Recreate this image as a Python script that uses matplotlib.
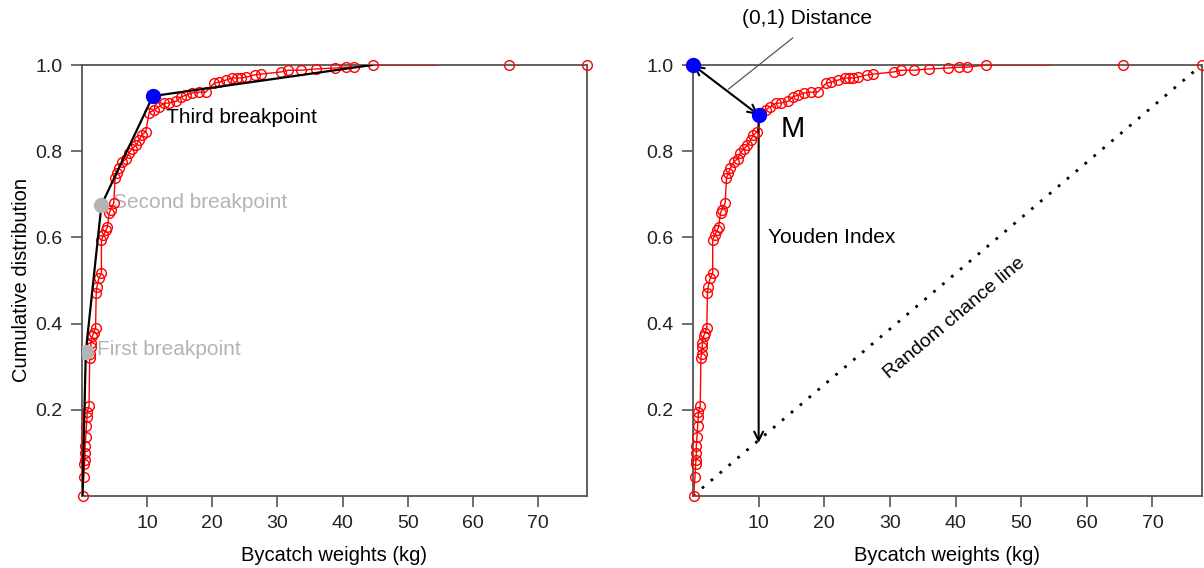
import matplotlib
matplotlib.use("Agg")
import matplotlib.pyplot as plt

plt.rcParams['font.family'] = ['Liberation Sans', 'DejaVu Sans']

# ECDF of bycatch weights (kg)
weights = [0.1, 0.3, 0.4, 0.45, 0.5, 0.5, 0.6, 0.7, 0.8, 0.8, 1.1,
           1.2, 1.3, 1.4, 1.4, 1.6, 1.8, 2.1,
           2.2, 2.3, 2.6, 3.0,
           3.0, 3.3, 3.7, 3.9, 4.2, 4.4, 4.9,
           5.1, 5.4, 5.7, 6.2, 6.8, 7.2, 7.7, 8.3, 8.8, 9.2, 9.8,
           10.3, 11.1, 11.8, 12.6, 13.4, 14.5, 15.2, 16.0, 16.9, 18.0, 19.0,
           20.3, 21.0, 22.1, 23.1, 23.8, 24.4, 25.2, 26.5, 27.5,
           30.6, 31.7, 33.7, 36.0, 38.8, 40.6, 41.8, 44.6, 65.5, 77.5]
cumdist = [0.0, 0.044, 0.075, 0.083, 0.10, 0.116, 0.137, 0.162, 0.183, 0.195, 0.209,
           0.32, 0.33, 0.345, 0.355, 0.37, 0.378, 0.39,
           0.47, 0.485, 0.505, 0.517,
           0.594, 0.605, 0.617, 0.624, 0.657, 0.664, 0.68,
           0.738, 0.749, 0.761, 0.775, 0.782, 0.796, 0.805, 0.814, 0.826, 0.838, 0.845,
           0.889, 0.896, 0.903, 0.911, 0.912, 0.916, 0.926, 0.93, 0.935, 0.937, 0.937,
           0.958, 0.96, 0.965, 0.97, 0.97, 0.97, 0.972, 0.977, 0.979,
           0.984, 0.988, 0.988, 0.991, 0.993, 0.995, 0.995, 1.0, 1.0, 1.0]
line_end = 54.5   # red line stops here

# piecewise fit with breakpoints (left panel)
bp_x = [0.1, 0.6, 3.0, 10.9, 44.5]
bp_y = [0.0, 0.334, 0.675, 0.928, 1.0]
bp_names = ["First breakpoint", "Second breakpoint", "Third breakpoint"]
bp_colors = ["#b4b4b4", "#b4b4b4", "blue"]
bp_text_col = ["#b4b4b4", "#b4b4b4", "black"]
bp_text_pos = [(2.3, 0.339), (4.8, 0.682), (12.9, 0.879)]

# optimal point M (right panel)
m_x, m_y = 10.0, 0.884

xmax = 77.5
xticks = [10, 20, 30, 40, 50, 60, 70]
yticks = [0.2, 0.4, 0.6, 0.8, 1.0]

fig = plt.figure(figsize=(12.04, 5.68), dpi=100)
ax1 = fig.add_axes([0.068, 0.127, 0.4195, 0.7585])
ax2 = fig.add_axes([0.5756, 0.127, 0.4224, 0.7585])

line_x = [w for w in weights if w <= 45] + [line_end]
line_y = [c for w, c in zip(weights, cumdist) if w <= 45] + [1.0]

for ax in (ax1, ax2):
    ax.plot(line_x, line_y, color="red", lw=1, zorder=3)
    ax.plot(weights, cumdist, ls="none", marker="o", ms=7, mfc="none",
            mec="red", mew=1, zorder=4, clip_on=False)
    ax.set_xlim(0, xmax)
    ax.set_ylim(0, 1)
    ax.set_xticks(xticks)
    ax.set_yticks(yticks)
    ax.set_yticklabels(["%.1f" % t for t in yticks])
    ax.tick_params(direction="out", length=8, width=1.2, color="#555555",
                   labelsize=14, labelcolor="#222222", pad=6)
    for s in ax.spines.values():
        s.set_color("#555555")
        s.set_linewidth(1.3)
    ax.set_xlabel("Bycatch weights (kg)", fontsize=14.5, labelpad=10)

ax1.set_ylabel("Cumulative distribution", fontsize=14.5, labelpad=3)

# left panel: fitted segments and breakpoints
ax1.plot(bp_x, bp_y, color="black", lw=1.6, zorder=5)
for i in range(3):
    ax1.plot(bp_x[i + 1], bp_y[i + 1], "o", color=bp_colors[i], ms=10, zorder=6)
    tx, ty = bp_text_pos[i]
    ax1.text(tx, ty, bp_names[i], color=bp_text_col[i], fontsize=15,
             ha="left", va="center")

# right panel
ax2.plot([0, xmax], [0, 1], color="black", lw=2, ls=(0, (1, 3.2)), zorder=2)
ax2.plot([0, m_x], [1, m_y], "o", color="blue", ms=10, zorder=6, clip_on=False)
ax2.annotate("", xy=(0, 1), xytext=(m_x, m_y),
             arrowprops=dict(arrowstyle="<->", color="black", lw=1.5,
                             shrinkA=0, shrinkB=0, mutation_scale=16))
ax2.annotate("", xy=(m_x, 0.123), xytext=(m_x, m_y),
             arrowprops=dict(arrowstyle="->", color="black", lw=1.5,
                             shrinkA=0, shrinkB=0, mutation_scale=16))
ax2.plot([15.2, 5.4], [1.063, 0.944], color="#444444", lw=0.8, clip_on=False)
ax2.text(17.4, 1.107, "(0,1) Distance", fontsize=15, ha="center",
         va="center", clip_on=False)
ax2.text(13.4, 0.852, "M", fontsize=21, ha="left", va="center")
ax2.text(11.4, 0.599, "Youden Index", fontsize=15, ha="left", va="center")
ax2.text(39.8, 0.413, "Random chance line", fontsize=14, rotation=40,
         ha="center", va="center", rotation_mode="anchor")

fig.savefig("out.png", dpi=100)
